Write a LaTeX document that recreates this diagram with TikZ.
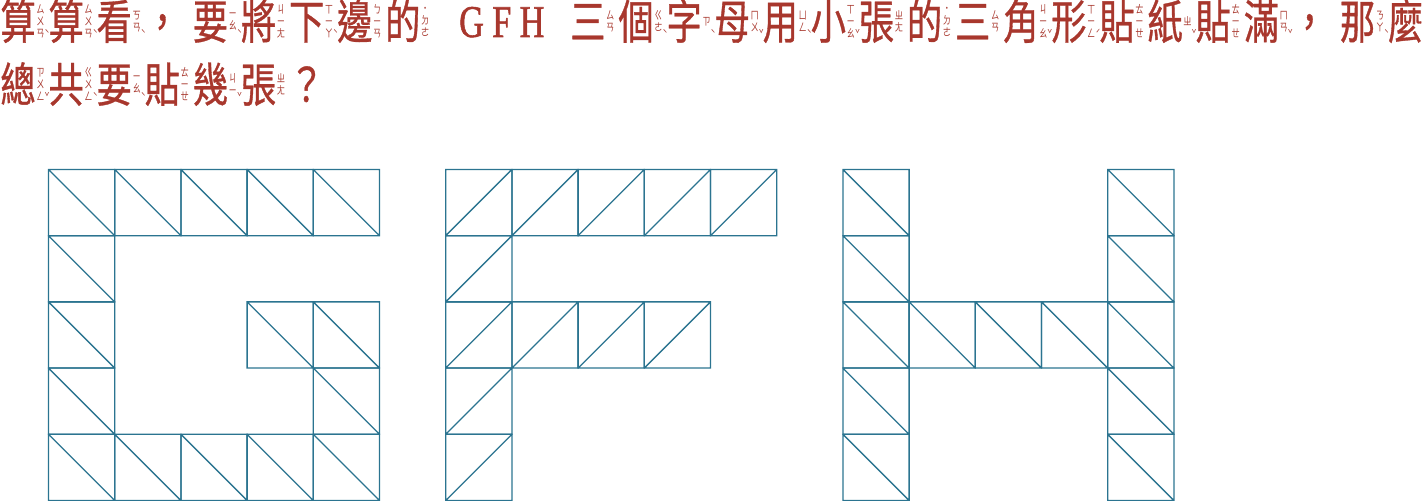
\documentclass[tikz,border=0pt]{standalone}
\usepackage{fontspec}
\newfontfamily\zhfont[FakeStretch=0.75,FakeBold=0.7]{Noto Sans CJK TC}
\newfontfamily\zyfam[FakeStretch=0.75]{Noto Sans CJK TC}
\newfontfamily\latfont[FakeStretch=0.75,FakeBold=1.2]{Liberation Serif}
\definecolor{textred}{HTML}{A8372D}
\definecolor{tileblue}{HTML}{2B7490}

\newcommand\zyfont{\zyfam\fontsize{5.5}{6}\selectfont}
\newsavebox\zybox
\def\zycol#1{\vbox{\baselineskip=6pt\zycolx#1\relax}}
\def\zycolx#1{\ifx#1\relax\else\hbox to 4.2pt{\hss#1\hss}\expandafter\zycolx\fi}
\newcommand\zy[3]{\sbox\zybox{\zyfont\zycol{#2}}%
  \hbox to 24.05pt{{\zhfont\fontsize{23.5}{28}\selectfont #1}\kern0.3pt%
  \raise\dimexpr 8.75pt-(\ht\zybox-\dp\zybox)/2\relax\box\zybox
  \raise0pt\hbox{\zyfont #3}\hss}}
\newcommand\zp[1]{\hbox to 24.05pt{\zhfont\fontsize{23.5}{28}\selectfont #1\hss}}

\begin{document}
\begin{tikzpicture}[x=0.5pt,y=-0.5pt,
    tile/.style={draw=tileblue,line width=0.65pt},
    txt/.style={anchor=base west,inner sep=0pt,text=textred}]
  \useasboundingbox (0,0) rectangle (1424,501);
  \node[txt] (line1) at (0,39) {\zy{算}{ㄙㄨㄢ}{ˋ}\zy{算}{ㄙㄨㄢ}{ˋ}\zy{看}{ㄎㄢ}{ˋ}\zp{，}%
    \zy{要}{ㄧㄠ}{ˋ}\zy{將}{ㄐㄧㄤ}{}\zy{下}{ㄒㄧㄚ}{ˋ}\zy{邊}{ㄅㄧㄢ}{}\zy{的}{˙ㄉㄜ}{}%
    \hbox to 68.5pt{\hss\raisebox{1pt}{\latfont\fontsize{22.7}{26}\selectfont G F H}\hss}%
    \zy{三}{ㄙㄢ}{}\zy{個}{ㄍㄜ}{ˋ}\zy{字}{ㄗ}{ˋ}\zy{母}{ㄇㄨ}{ˇ}\zy{用}{ㄩㄥ}{ˋ}%
    \zy{小}{ㄒㄧㄠ}{ˇ}\zy{張}{ㄓㄤ}{}\zy{的}{˙ㄉㄜ}{}\zy{三}{ㄙㄢ}{}\zy{角}{ㄐㄧㄠ}{ˇ}%
    \zy{形}{ㄒㄧㄥ}{ˊ}\zy{貼}{ㄊㄧㄝ}{}\zy{紙}{ㄓ}{ˇ}\zy{貼}{ㄊㄧㄝ}{}\zy{滿}{ㄇㄢ}{ˇ}%
    \zp{，}\zy{那}{ㄋㄚ}{ˋ}\zy{麼}{˙ㄇㄜ}{}};
  \node[txt] (line2) at (0,102) {\zy{總}{ㄗㄨㄥ}{ˇ}\zy{共}{ㄍㄨㄥ}{ˋ}\zy{要}{ㄧㄠ}{ˋ}%
    \zy{貼}{ㄊㄧㄝ}{}\zy{幾}{ㄐㄧ}{ˇ}\zy{張}{ㄓㄤ}{}\zp{？}};
  \begin{scope}[shift={(48.5,169.5)},x=33.1pt,y=-33.1pt]
    \foreach \c/\r in {0/0,1/0,2/0,3/0,4/0,0/1,0/2,3/2,4/2,0/3,4/3,0/4,1/4,2/4,3/4,4/4}
      \draw[tile] (\c,\r) rectangle ++(1,1) (\c,\r) -- ++(1,1);
    \foreach \c/\r in {0/0,1/0,2/0,3/0,4/0,0/1,0/2,1/2,2/2,3/2,0/3,0/4}
      \draw[tile] (\c+6,\r) rectangle ++(1,1) (\c+6,\r+1) -- ++(1,-1);
    \foreach \c/\r in {0/0,4/0,0/1,4/1,0/2,1/2,2/2,3/2,4/2,0/3,4/3,0/4,4/4}
      \draw[tile] (\c+12,\r) rectangle ++(1,1) (\c+12,\r) -- ++(1,1);
  \end{scope}
\end{tikzpicture}
\end{document}
